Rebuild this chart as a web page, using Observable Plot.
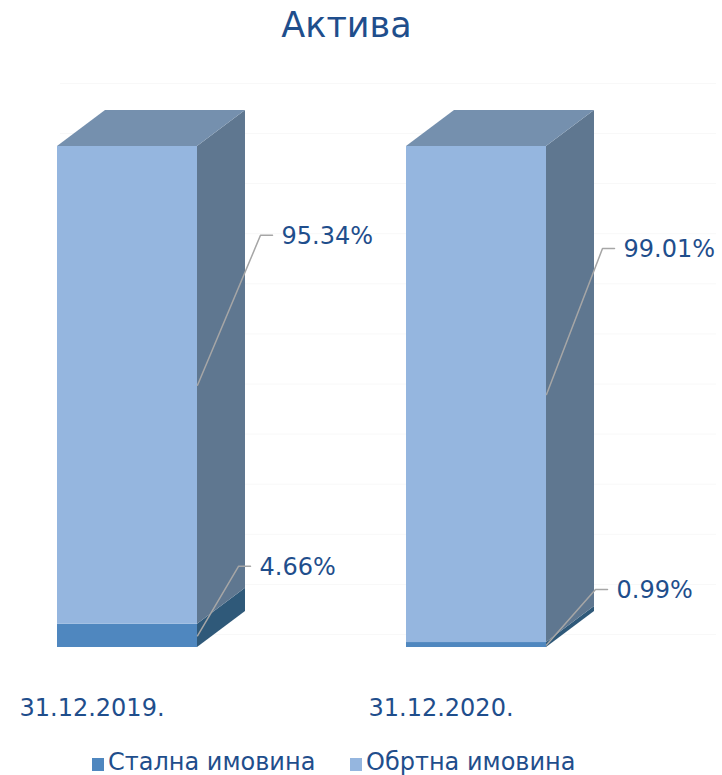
<!DOCTYPE html>
<html>
<head>
<meta charset="utf-8">
<script src="https://cdn.jsdelivr.net/npm/d3@7"></script>
<script src="https://cdn.jsdelivr.net/npm/@observablehq/plot@0.6"></script>
<style>
  html, body { margin: 0; padding: 0; background: #fff; }
  #wrap { position: relative; width: 722px; height: 775px; font-family: "DejaVu Sans", Verdana, sans-serif; color: #1f4e8c; overflow: hidden; }
  #title { position: absolute; left: 0; top: 5px; width: 693px; text-align: center; font-size: 35px; line-height: normal; }
  #chart { position: absolute; left: 0; top: 62px; }
  .leg { position: absolute; top: 748px; font-size: 24px; line-height: normal; white-space: nowrap; }
  .sw { position: absolute; width: 12px; height: 13px; }
</style>
</head>
<body>
<div id="wrap">
  <div id="title">Актива</div>
  <div id="chart"></div>
</div>
<script>
// ---- data ----
const categories = ["31.12.2019.", "31.12.2020."];
const seriesNames = ["Стална имовина", "Обртна имовина"];
const fixedAssets = [4.66, 0.99];     // Стална имовина (%)
const currentAssets = [95.34, 99.01]; // Обртна имовина (%)
const gridTicks = [0, 10, 20, 30, 40, 50, 60, 70, 80, 90, 100, 110];

// ---- style / layout ----
const frontColors = ["#4f87bf", "#95b6df"];
const sideColors = ["#2f5979", "#5f7790"];
const topColor = "#7590ae";
const textColor = "#1f4e8c";
const W = 722, H = 680;
const xDomain = [0, 2], xRange = [-47.5, 650.5];
const marginTop = 84, marginBottom = 95;
const kx = (xRange[1] - xRange[0]) / (xDomain[1] - xDomain[0]);
const ky = (H - marginBottom - marginTop) / 100;
const BAR_W = 140 / kx, DX = 48 / kx, DY = 36 / ky;
// leader layout per [category][series]: [bend dx px, lift px]
const leaderLayout = [[[41, -69.5], [63, -150]], [[49, -55.5], [56, -146]]];

const values = [fixedAssets, currentAssets];
const segments = [];
categories.forEach((cat, i) => {
  let lo = 0;
  seriesNames.forEach((s, si) => {
    const v = values[si][i];
    segments.push({cat, i, si, series: s, value: v, lo, hi: lo + v,
      xl: i + 0.5 - BAR_W / 2, xr: i + 0.5 + BAR_W / 2,
      bend: leaderLayout[i][si][0], lift: leaderLayout[i][si][1]});
    lo += v;
  });
});

const sideVerts = segments.flatMap(d => [
  {key: d.cat + d.series, si: d.si, x: d.xr, lo: d.lo, hi: d.hi},
  {key: d.cat + d.series, si: d.si, x: d.xr + DX, lo: d.lo + DY, hi: d.hi + DY}
]);

const tops = categories.map((cat, i) => {
  const segs = segments.filter(d => d.i === i);
  return {cat, xl: segs[0].xl, xr: segs[0].xr, t: segs[segs.length - 1].hi};
});
const topVerts = tops.flatMap(d => [
  {key: d.cat, x: d.xl, lo: d.t, hi: d.t},
  {key: d.cat, x: d.xl + DX, lo: d.t, hi: d.t + DY},
  {key: d.cat, x: d.xr, lo: d.t, hi: d.t + DY},
  {key: d.cat, x: d.xr + DX, lo: d.t + DY, hi: d.t + DY}
]);

const leaderVerts = segments.flatMap(d => {
  const mid = (d.lo + d.hi) / 2;
  const yb = mid - d.lift / ky;
  return [
    {key: d.cat + d.series, x: d.xr, y: mid},
    {key: d.cat + d.series, x: d.xr + d.bend / kx, y: yb},
    {key: d.cat + d.series, x: d.xr + (d.bend + 12) / kx, y: yb}
  ];
});

const labelMarks = segments.map(d => Plot.text([d], {
  x: "xr", y: s => (s.lo + s.hi) / 2, text: s => s.value.toFixed(2) + "%",
  dx: d.bend + 12 + 9, dy: d.lift + 1,
  textAnchor: "start", fontSize: 24, fill: textColor
}));

const plot = Plot.plot({
  width: W, height: H,
  marginTop, marginBottom, marginLeft: 0, marginRight: 0,
  style: {fontFamily: "DejaVu Sans, Verdana, sans-serif", background: "transparent"},
  x: {domain: xDomain, range: xRange, axis: null},
  y: {domain: [0, 100], axis: null},
  color: {domain: seriesNames, range: frontColors},
  marks: [
    Plot.ruleY(gridTicks, {y: d => d, x1: (60 - xRange[0]) / kx, x2: (716 - xRange[0]) / kx, dy: -13, stroke: "#f8f8f8", strokeWidth: 1}),
    Plot.area(sideVerts.filter(d => d.si === 0), {x1: "x", y1: "lo", y2: "hi", z: "key", fill: sideColors[0]}),
    Plot.area(sideVerts.filter(d => d.si === 1), {x1: "x", y1: "lo", y2: "hi", z: "key", fill: sideColors[1]}),
    Plot.area(topVerts, {x1: "x", y1: "lo", y2: "hi", z: "key", fill: topColor}),
    Plot.rect(segments, {x1: "xl", x2: "xr", y1: "lo", y2: "hi", fill: "series"}),
    Plot.line(leaderVerts, {x: "x", y: "y", z: "key", stroke: "#a6a6a6", strokeWidth: 1.5}),
    ...labelMarks,
    Plot.text(categories, {x: (d, i) => i + 0.5, y: 0, text: d => d, dx: -35.5, dy: 61, fontSize: 24, fill: textColor})
  ]
});
document.getElementById("chart").appendChild(plot);

// legend
const wrap = document.getElementById("wrap");
const legendPos = [92, 350];
seriesNames.forEach((s, si) => {
  const sw = document.createElement("div");
  sw.className = "sw";
  sw.style.left = legendPos[si] + "px";
  sw.style.top = "758px";
  sw.style.background = frontColors[si];
  wrap.appendChild(sw);
  const t = document.createElement("div");
  t.className = "leg";
  t.style.left = (legendPos[si] + 16) + "px";
  t.textContent = s;
  wrap.appendChild(t);
});
</script>
</body>
</html>
